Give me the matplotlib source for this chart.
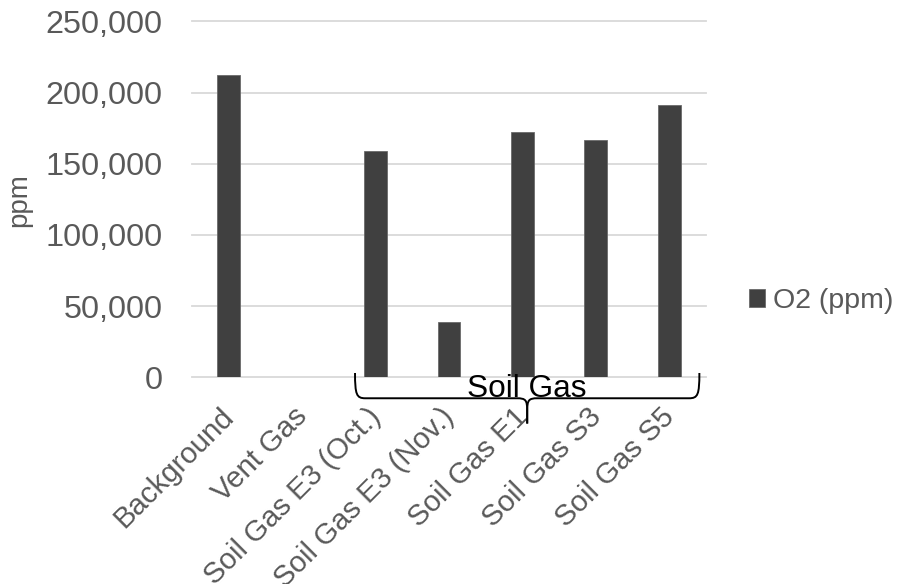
import numpy as np
import matplotlib.pyplot as plt
from matplotlib.path import Path
from matplotlib.patches import PathPatch
from matplotlib.transforms import blended_transform_factory, ScaledTranslation
from matplotlib.ticker import FuncFormatter

categories = ['Background', 'Vent Gas', 'Soil Gas E3 (Oct.)', 'Soil Gas E3 (Nov.)',
              'Soil Gas E1', 'Soil Gas S3', 'Soil Gas S5']
o2_ppm = [212000, 0, 159000, 38600, 172000, 166700, 191400]
series_name = 'O2 (ppm)'
group_label = 'Soil Gas'
group_first, group_last = 2, 6   # indices of the soil gas samples

plt.rcParams['font.family'] = ['Liberation Sans', 'DejaVu Sans']
gray = '#595959'

fig = plt.figure(figsize=(8.99, 5.84), dpi=100)
ax = fig.add_axes([0.2136, 0.354, 0.5717, 0.6095])

x = np.arange(len(categories))
bars = ax.bar(x, o2_ppm, width=0.31, color='#404040', edgecolor='#6a6a6a',
              linewidth=0.6, label=series_name, zorder=3)

ax.set_xlim(-0.5, len(categories) - 0.5)
ax.set_ylim(0, 250000)
ax.set_yticks(np.arange(0, 250001, 50000))
ax.yaxis.set_major_formatter(FuncFormatter(lambda v, _: f'{v:,.0f}'))
ax.tick_params(axis='y', length=0, pad=21, labelsize=23.3, labelcolor=gray)
ax.tick_params(axis='x', length=0, labelbottom=False)
ax.grid(axis='y', color='#d9d9d9', linewidth=1.3, zorder=0)
ax.grid(axis='x', visible=False)
for s in ax.spines.values():
    s.set_visible(False)
for gl in ax.get_ygridlines():
    gl.set_clip_on(False)

fig.text(19 / 899, 1 - 200 / 584, 'ppm', rotation=90, ha='center', va='center',
         fontsize=20, color=gray)

# rotated category labels, right end just under each bar
lbl_trans = ax.get_xaxis_transform() + ScaledTranslation(0.01, -0.35, fig.dpi_scale_trans)
for xi, name in zip(x, categories):
    ax.text(xi, 0, name, transform=lbl_trans, rotation=45, rotation_mode='anchor',
            ha='right', va='center', fontsize=21.2, color=gray)

# curly brace grouping the soil gas samples
bt = blended_transform_factory(ax.transData, ax.transAxes)
left = group_first - 0.28
right = group_last + 0.41
mid = (left + right) / 2
y_top, y_line, y_tip = 0.012, -0.059, -0.13
c = 0.14


def half_brace(x_end, sign):
    verts = [(x_end, y_top),
             (x_end, y_line + 0.01), (x_end + sign * c * 0.15, y_line), (x_end + sign * c, y_line),
             (mid - sign * c, y_line),
             (mid - sign * c * 0.15, y_line), (mid, y_line - 0.005), (mid, y_line - 0.035),
             (mid, y_tip)]
    codes = [Path.MOVETO,
             Path.CURVE4, Path.CURVE4, Path.CURVE4,
             Path.LINETO,
             Path.CURVE4, Path.CURVE4, Path.CURVE4,
             Path.LINETO]
    return PathPatch(Path(verts, codes), transform=bt, fill=False, lw=1.4,
                     edgecolor='black', clip_on=False, zorder=5)


ax.add_patch(half_brace(left, 1))
ax.add_patch(half_brace(right, -1))
ax.text(mid, 0.008, group_label, transform=bt, ha='center', va='top',
        fontsize=22.8, color='black', zorder=6, clip_on=False)

ax.legend(loc='center left', bbox_to_anchor=(749 / 899, 1 - 301 / 584),
          bbox_transform=fig.transFigure, frameon=False, fontsize=20.5,
          handlelength=0.56, handleheight=0.56, handletextpad=0.3,
          borderpad=0, borderaxespad=0, labelcolor=gray)

fig.savefig('out.png', dpi=100)
